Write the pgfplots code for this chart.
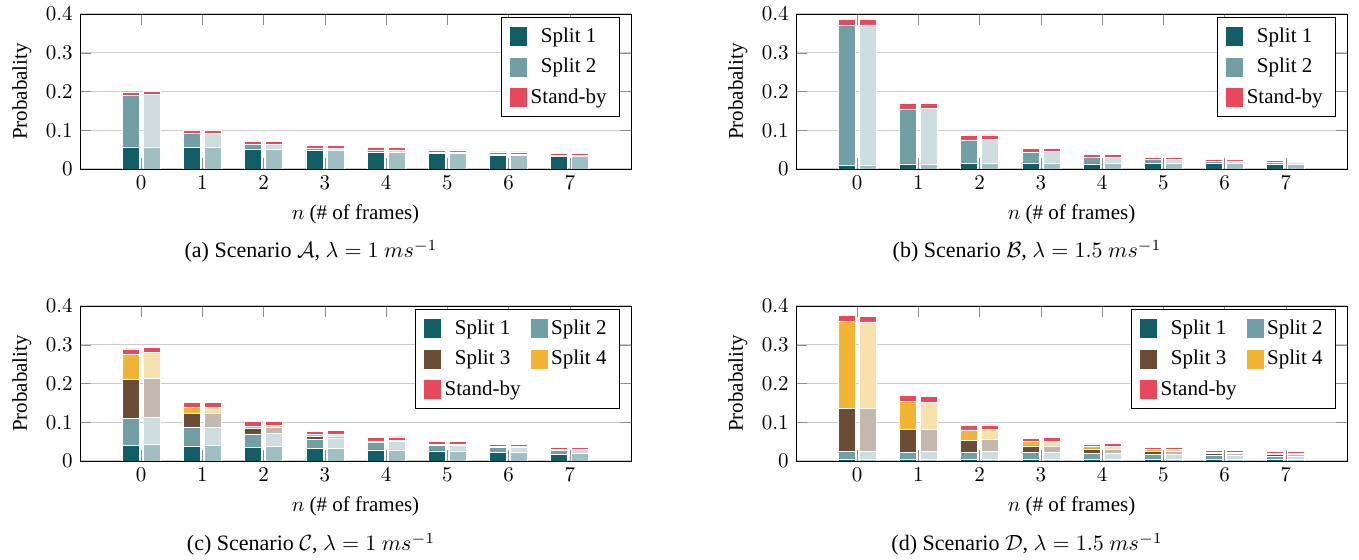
\RequirePackage{fix-cm}
\documentclass[border=0pt]{standalone}
\usepackage{fontspec}
\setmainfont{Liberation Serif}
\usepackage{pgfplots}
\usepackage{pgfplotstable}
\pgfplotsset{compat=1.18}

\definecolor{c1}{HTML}{115E67}
\definecolor{c2}{HTML}{729FA4}
\definecolor{c3}{HTML}{6B4C35}
\definecolor{c4}{HTML}{F1B434}
\definecolor{cs}{HTML}{E8485B}

\pgfplotstableread{
n L1 L2 LS R1 R2 RS
0 0.057 0.132 0.010 0.057 0.135 0.009
1 0.055 0.037 0.009 0.055 0.037 0.009
2 0.052 0.011 0.008 0.051 0.013 0.008
3 0.047 0.007 0.007 0.047 0.007 0.006
4 0.044 0.005 0.006 0.044 0.005 0.006
5 0.040 0.004 0.005 0.040 0.004 0.005
6 0.036 0.003 0.005 0.036 0.003 0.005
7 0.033 0.002 0.005 0.033 0.002 0.005
}\dataA

\pgfplotstableread{
n L1 L2 LS R1 R2 RS
0 0.010 0.361 0.015 0.010 0.362 0.015
1 0.013 0.142 0.0145 0.013 0.143 0.014
2 0.015 0.060 0.012 0.015 0.061 0.012
3 0.015 0.029 0.010 0.015 0.030 0.009
4 0.013 0.017 0.008 0.0146 0.015 0.008
5 0.0146 0.010 0.005 0.0146 0.010 0.005
6 0.0146 0.005 0.005 0.014 0.007 0.003
7 0.012 0.005 0.0045 0.012 0.005 0.003
}\dataB

\pgfplotstableread{
n L1 L2 L3 L4 LS R1 R2 R3 R4 RS
0 0.040 0.070 0.100 0.065 0.014 0.042 0.070 0.101 0.067 0.014
1 0.039 0.049 0.035 0.015 0.013 0.040 0.048 0.036 0.015 0.013
2 0.036 0.034 0.015 0.0045 0.012 0.038 0.034 0.016 0.004 0.011
3 0.033 0.024 0.007 0.004 0.009 0.0335 0.0255 0.006 0.004 0.009
4 0.0285 0.0195 0.0025 0.0015 0.009 0.0285 0.0215 0.002 0.001 0.009
5 0.026 0.014 0.002 0.001 0.007 0.026 0.0145 0.0015 0.001 0.0075
6 0.0215 0.013 0.0015 0.001 0.006 0.0215 0.0135 0.0015 0.0005 0.006
7 0.018 0.0096 0.0014 0.0005 0.0055 0.0195 0.0095 0.001 0.0005 0.0055
}\dataC

\pgfplotstableread{
n L1 L2 L3 L4 LS R1 R2 R3 R4 RS
0 0.004 0.020 0.111 0.225 0.015 0.004 0.021 0.111 0.223 0.014
1 0.004 0.019 0.059 0.072 0.015 0.004 0.021 0.057 0.070 0.015
2 0.004 0.019 0.031 0.026 0.011 0.004 0.020 0.032 0.026 0.011
3 0.004 0.018 0.017 0.011 0.009 0.004 0.019 0.016 0.011 0.010
4 0.004 0.015 0.012 0.006 0.007 0.004 0.015 0.012 0.007 0.007
5 0.004 0.012 0.008 0.005 0.006 0.004 0.012 0.008 0.005 0.006
6 0.004 0.010 0.006 0.003 0.005 0.004 0.010 0.006 0.003 0.005
7 0.004 0.008 0.005 0.003 0.004 0.004 0.008 0.005 0.003 0.004
}\dataD

\pgfplotsset{
  sq/.style={fill=#1, draw=white, line width=0.3pt, area legend,
    legend image code/.code={\fill[#1] (0pt,-4.5pt) rectangle (8pt,4.5pt);}},
  lbar/.style={sq=#1, bar shift=-5.25pt},
  rbar/.style={sq=#1, bar shift=5.25pt},
  base/.style={
    scale only axis, width=275.5pt, height=77.5pt,
    xmin=-1, xmax=8, ymin=0, ymax=0.4,
    xtick={0,1,...,7}, ytick={0,0.1,0.2,0.3,0.4},
    ybar stacked, bar width=8.5pt,
    anchor=south west,
  },
  front/.style={base,
    ymajorgrids, grid style={gray!40, line width=0.5pt},
    major tick style={gray!90}, major tick length=5.5pt,
    xtick pos=both, ytick pos=both,
    xlabel={$n$ (\# of frames)}, ylabel={Probabality},
    bar shift=-5.25pt,
    legend cell align=center,
    legend style={draw=black, fill=white, row sep=2.5pt, inner xsep=4.5pt, inner ysep=3pt},
  },
  back/.style={base, hide axis, bar shift=5.25pt},
}

\begin{document}
\fontsize{10.5}{12.6}\selectfont
\begin{tikzpicture}
\useasboundingbox (0,0) rectangle (679.5pt,280pt);

% (a)
\begin{axis}[front, at={(40pt,195.5pt)}]
\addplot[lbar=c1] table[x=n,y=L1]{\dataA}; \addlegendentry{Split 1}
\addplot[lbar=c2] table[x=n,y=L2]{\dataA}; \addlegendentry{Split 2}
\addplot[lbar=cs] table[x=n,y=LS]{\dataA}; \addlegendentry{Stand-by}
\end{axis}
\begin{axis}[back, at={(40pt,195.5pt)}]
\addplot[rbar=c1!40!white] table[x=n,y=R1]{\dataA};
\addplot[rbar=c2!35!white] table[x=n,y=R2]{\dataA};
\addplot[rbar=cs] table[x=n,y=RS]{\dataA};
\end{axis}

% (b)
\begin{axis}[front, at={(398pt,195.5pt)}]
\addplot[lbar=c1] table[x=n,y=L1]{\dataB}; \addlegendentry{Split 1}
\addplot[lbar=c2] table[x=n,y=L2]{\dataB}; \addlegendentry{Split 2}
\addplot[lbar=cs] table[x=n,y=LS]{\dataB}; \addlegendentry{Stand-by}
\end{axis}
\begin{axis}[back, at={(398pt,195.5pt)}]
\addplot[rbar=c1!40!white] table[x=n,y=R1]{\dataB};
\addplot[rbar=c2!35!white] table[x=n,y=R2]{\dataB};
\addplot[rbar=cs] table[x=n,y=RS]{\dataB};
\end{axis}

% (c)
\begin{axis}[front, at={(40pt,49.5pt)}, legend columns=2, legend style={/tikz/every even column/.append style={column sep=3pt}}]
\addplot[lbar=c1] table[x=n,y=L1]{\dataC}; \addlegendentry{Split 1}
\addplot[lbar=c2] table[x=n,y=L2]{\dataC}; \addlegendentry{Split 2}
\addplot[lbar=c3] table[x=n,y=L3]{\dataC}; \addlegendentry{Split 3}
\addplot[lbar=c4] table[x=n,y=L4]{\dataC}; \addlegendentry{Split 4}
\addplot[lbar=cs] table[x=n,y=LS]{\dataC}; \addlegendentry{Stand-by}
\end{axis}
\begin{axis}[back, at={(40pt,49.5pt)}]
\addplot[rbar=c1!40!white] table[x=n,y=R1]{\dataC};
\addplot[rbar=c2!35!white] table[x=n,y=R2]{\dataC};
\addplot[rbar=c3!40!white] table[x=n,y=R3]{\dataC};
\addplot[rbar=c4!40!white] table[x=n,y=R4]{\dataC};
\addplot[rbar=cs] table[x=n,y=RS]{\dataC};
\end{axis}

% (d)
\begin{axis}[front, at={(398pt,49.5pt)}, legend columns=2, legend style={/tikz/every even column/.append style={column sep=3pt}}]
\addplot[lbar=c1] table[x=n,y=L1]{\dataD}; \addlegendentry{Split 1}
\addplot[lbar=c2] table[x=n,y=L2]{\dataD}; \addlegendentry{Split 2}
\addplot[lbar=c3] table[x=n,y=L3]{\dataD}; \addlegendentry{Split 3}
\addplot[lbar=c4] table[x=n,y=L4]{\dataD}; \addlegendentry{Split 4}
\addplot[lbar=cs] table[x=n,y=LS]{\dataD}; \addlegendentry{Stand-by}
\end{axis}
\begin{axis}[back, at={(398pt,49.5pt)}]
\addplot[rbar=c1!40!white] table[x=n,y=R1]{\dataD};
\addplot[rbar=c2!35!white] table[x=n,y=R2]{\dataD};
\addplot[rbar=c3!40!white] table[x=n,y=R3]{\dataD};
\addplot[rbar=c4!40!white] table[x=n,y=R4]{\dataD};
\addplot[rbar=cs] table[x=n,y=RS]{\dataD};
\end{axis}

\begin{scope}[font=\fontsize{11}{13}\selectfont]
\node[anchor=base] at (155.5pt,151pt) {(a) Scenario $\mathcal{A}$, $\lambda = 1\ ms^{-1}$};
\node[anchor=base] at (513.5pt,151pt) {(b) Scenario $\mathcal{B}$, $\lambda = 1.5\ ms^{-1}$};
\node[anchor=base] at (155.5pt,4.5pt) {(c) Scenario $\mathcal{C}$, $\lambda = 1\ ms^{-1}$};
\node[anchor=base] at (513.5pt,4.5pt) {(d) Scenario $\mathcal{D}$, $\lambda = 1.5\ ms^{-1}$};
\end{scope}
\end{tikzpicture}
\end{document}
